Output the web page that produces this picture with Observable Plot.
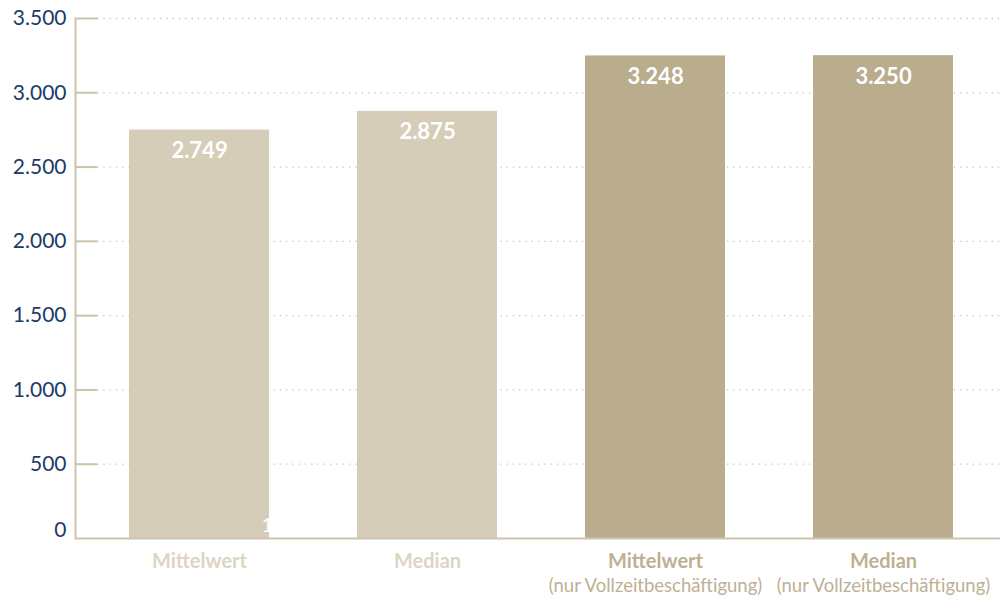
<!DOCTYPE html>
<html>
<head>
<meta charset="utf-8">
<script src="https://cdn.jsdelivr.net/npm/d3@7"></script>
<script src="https://cdn.jsdelivr.net/npm/@observablehq/plot@0.6"></script>
<style>
  html, body { margin: 0; padding: 0; background: #fff; }
  #chart svg { display: block; }
</style>
</head>
<body>
<div id="chart"></div>
<script>
const categories = ["Mittelwert", "Median", "Mittelwert ", "Median "];
const mainLabels = ["Mittelwert", "Median", "Mittelwert", "Median"];
const subLabels = ["", "", "(nur Vollzeitbeschäftigung)", "(nur Vollzeitbeschäftigung)"];
const values = [2749, 2875, 3248, 3250];
const groups = ["alle", "alle", "vollzeit", "vollzeit"];
const yTicks = [0, 500, 1000, 1500, 2000, 2500, 3000, 3500];
const footnote = "1";

const data = categories.map((c, i) => ({cat: c, main: mainLabels[i], sub: subLabels[i], value: values[i], group: groups[i]}));

const de = d3.formatLocale({decimal: ",", thousands: ".", grouping: [3], currency: ["", " €"]});
const fmt = de.format(",");

const W = 1000, H = 598, ML = 75, MR = 0, MT = 18, MB = 60;
const axisColor = "#cdc3aa";
const barColor = {alle: "#d6cdb9", vollzeit: "#b9ad8e"};
const labelColor = {alle: "#ddd5c3", vollzeit: "#bdb194"};
const tickColor = "#1d3b68";

const chart = Plot.plot({
  width: W, height: H,
  marginLeft: ML, marginRight: MR, marginTop: MT, marginBottom: MB,
  style: {fontFamily: "Lato, 'Noto Sans', sans-serif", background: "#fff"},
  x: {domain: categories, paddingInner: 0.386, paddingOuter: 0.2215, align: 0.535, axis: null},
  y: {domain: [0, 3500], ticks: yTicks, axis: null},
  marks: [
    // dotted grid
    Plot.ruleY(yTicks.filter(d => d > 0), {insetLeft: 22, stroke: axisColor, strokeWidth: 1.3, strokeDasharray: "1.3,5"}),
    // short solid tick stubs
    Plot.ruleY(yTicks.filter(d => d > 0), {insetRight: W - ML - MR - 22, stroke: axisColor, strokeWidth: 2}),
    // y tick labels
    Plot.text(yTicks.filter(d => d > 0), {y: d => d, frameAnchor: "left", dx: -9, text: d => fmt(d), textAnchor: "end", fill: tickColor, fontSize: 21}),
    Plot.text(yTicks.filter(d => d === 0), {y: d => d, frameAnchor: "left", dx: -9, dy: -8, text: d => fmt(d), textAnchor: "end", fill: tickColor, fontSize: 21}),
    // bars
    Plot.barY(data, {x: "cat", y: "value", fill: d => barColor[d.group]}),
    // value labels
    Plot.text(data, {x: "cat", y: "value", text: d => fmt(d.value), dy: 21, fill: "#fff", fontWeight: "bold", fontSize: 22}),
    // footnote marker
    Plot.text([data[0]], {x: "cat", y: 0, text: () => footnote, dx: 62, dy: -13, textAnchor: "start", fill: "#fff", fontSize: 20}),
    // baseline and y axis line
    Plot.ruleY([0], {stroke: axisColor, strokeWidth: 2}),
    Plot.frame({anchor: "left", stroke: axisColor, strokeWidth: 2}),
    // category labels
    Plot.text(data, {x: "cat", frameAnchor: "bottom", text: "main", dy: 29, fill: d => labelColor[d.group], fontWeight: "bold", fontSize: 20}),
    Plot.text(data, {x: "cat", frameAnchor: "bottom", text: "sub", dy: 53, fill: d => labelColor[d.group], fontSize: 18.5})
  ]
});
document.getElementById("chart").appendChild(chart);
</script>
</body>
</html>
